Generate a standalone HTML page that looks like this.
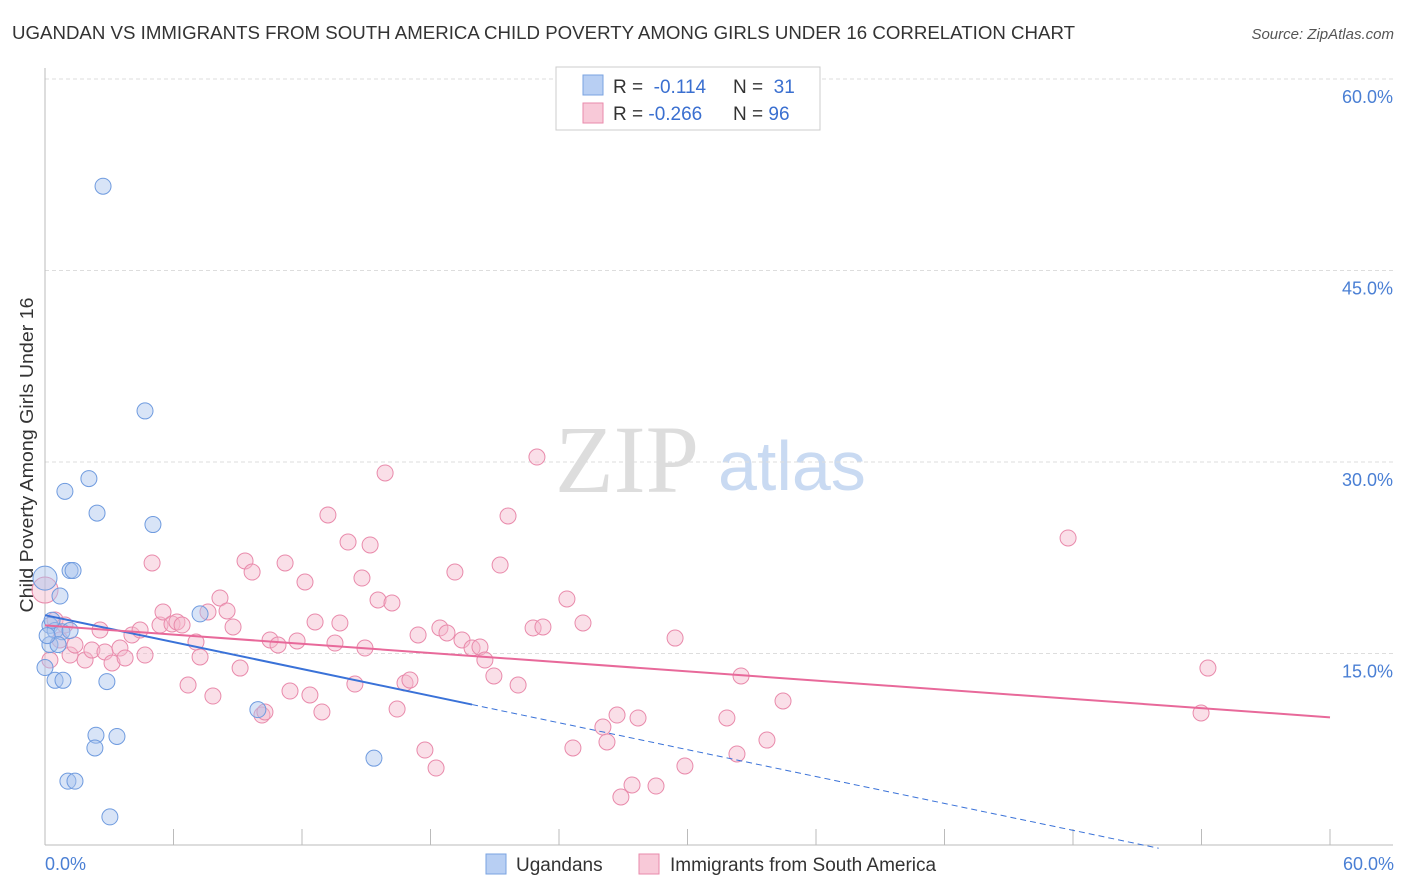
<!DOCTYPE html>
<html><head><meta charset="utf-8"><style>
body{margin:0;background:#fff;font-family:"Liberation Sans",sans-serif;}
#wrap{position:relative;width:1406px;height:892px;overflow:hidden}
</style></head><body><div id="wrap">
<svg id="svg" width="1406" height="892" xmlns="http://www.w3.org/2000/svg">
<text x="12" y="39" font-size="18" fill="#333" textLength="1063" lengthAdjust="spacingAndGlyphs">UGANDAN VS IMMIGRANTS FROM SOUTH AMERICA CHILD POVERTY AMONG GIRLS UNDER 16 CORRELATION CHART</text>
<text x="1394" y="39" font-size="15" fill="#555" font-style="italic" text-anchor="end">Source: ZipAtlas.com</text>
<text x="0" y="0" transform="translate(33,455) rotate(-90)" font-size="18" fill="#333" text-anchor="middle" textLength="315" lengthAdjust="spacingAndGlyphs">Child Poverty Among Girls Under 16</text>
<text x="555" y="492" font-size="96" fill="#ddd" font-family="Liberation Serif">ZIP</text>
<text x="718" y="490" font-size="70" fill="#c9daf2">atlas</text>
<g id="grid"></g><g id="pts"></g><g id="lines"></g>
<g>
<rect x="556" y="67" width="264" height="63" fill="#fff" stroke="#ccc"/>
<rect x="583" y="75" width="20" height="20" fill="#b8cff3" stroke="#7aa3e0"/>
<rect x="583" y="103" width="20" height="20" fill="#f8c9d8" stroke="#e98aab"/>
<text x="613" y="93" font-size="19" fill="#333">R = <tspan fill="#3a6fd0">&#160;-0.114</tspan><tspan x="733">N = </tspan><tspan fill="#3a6fd0">&#160;31</tspan></text>
<text x="613" y="120" font-size="19" fill="#333">R = <tspan fill="#3a6fd0">-0.266</tspan><tspan x="733">N = </tspan><tspan fill="#3a6fd0">96</tspan></text>
</g>
<g>
<rect x="486" y="854" width="20" height="20" fill="#b8cff3" stroke="#7aa3e0"/>
<text x="516" y="871" font-size="19" fill="#333">Ugandans</text>
<rect x="639" y="854" width="20" height="20" fill="#f8c9d8" stroke="#e98aab"/>
<text x="670" y="871" font-size="19" fill="#333">Immigrants from South America</text>
</g>
<text x="45" y="870" font-size="18" fill="#4a7fd4">0.0%</text>
<text x="1394" y="870" font-size="18" fill="#4a7fd4" text-anchor="end">60.0%</text>
</svg></div>
<script>
const yTicks=[15,30,45,60];
const blueX=[2.71,4.67,2.05,0.93,2.43,5.04,1.17,1.31,0,0.7,7.24,0.23,0.47,0.79,1.17,0.23,0.61,0.47,0.84,2.89,2.38,3.36,2.33,9.94,15.36,1.07,1.4,3.03,0,0.33,0.1];
const blueY=[51.6,34.0,28.7,27.7,26.0,25.1,21.5,21.5,20.9,19.5,18.1,17.2,16.8,16.7,16.8,15.7,15.7,12.9,12.9,12.8,8.6,8.5,7.6,10.6,6.8,5.0,5.0,2.2,13.9,17.6,16.4];
const pinkPx=[[45,590],[55,620],[60,640],[70,655],[75,645],[85,660],[92,650],[100,630],[105,652],[112,663],[120,648],[125,658],[132,635],[140,630],[145,655],[152,563],[160,625],[163,612],[172,624],[177,622],[182,625],[188,685],[196,642],[200,657],[208,612],[213,696],[220,598],[227,611],[233,627],[240,668],[245,561],[252,572],[262,715],[265,712],[270,640],[278,645],[285,563],[290,691],[297,641],[305,582],[310,695],[315,622],[322,712],[328,515],[335,643],[340,623],[348,542],[355,684],[362,578],[365,648],[370,545],[378,600],[385,473],[392,603],[397,709],[405,683],[410,680],[418,635],[425,750],[436,768],[440,628],[447,633],[455,572],[462,640],[472,648],[480,647],[485,660],[494,676],[500,565],[508,516],[518,685],[533,628],[537,457],[543,627],[567,599],[573,748],[583,623],[603,727],[607,742],[617,715],[621,797],[632,785],[638,718],[656,786],[675,638],[685,766],[727,718],[737,754],[741,676],[767,740],[783,701],[1068,538],[1201,713],[1208,668],[50,660],[65,625]];
const pinkX=pinkPx.map(p=>+((p[0]-45)*60/1285).toFixed(2));
const pinkY=pinkPx.map(p=>+((845-p[1])*15/191.5).toFixed(2));
const blueTrend=[[0,18.0],[19.94,11.0]];
const blueTrendExt=[19.94,52.0];
const pinkTrend=[[0,17.2],[60,10.0]];
const X=v=>45+v*1285/60, Y=v=>845-v*191.5/15;
const NS="http://www.w3.org/2000/svg";
function mk(t,a,p){const e=document.createElementNS(NS,t);for(const k in a)e.setAttribute(k,a[k]);p.appendChild(e);return e;}
const grid=document.getElementById('grid');
yTicks.forEach(t=>{
 const l=mk('line',{x1:45,x2:1393,y1:Y(t),y2:Y(t),stroke:'#ddd','stroke-dasharray':'4,3'},grid);
 
 
 const tx=mk('text',{x:1393,y:Y(t)+24,'font-size':18,fill:'#4a7fd4','text-anchor':'end'},grid);
 tx.textContent=t.toFixed(1)+'%';
 
 
});
const ax=mk('line',{x1:45,x2:45,y1:68,y2:845,stroke:'#bbb'},grid);


const bx=mk('line',{x1:45,x2:1393,y1:845,y2:845,stroke:'#bbb'},grid);


for(let i=0;i<=10;i++){const t=mk('line',{x1:X(i*6),x2:X(i*6),y1:829,y2:845,stroke:'#bbb'},grid);
 
 }
const pts=document.getElementById('pts');
pinkX.forEach((x,i)=>{const c=mk('circle',{cx:X(x),cy:Y(pinkY[i]),r:i==0?13:8,fill:'rgba(244,184,203,0.45)',stroke:'#e98aab','stroke-width':1},pts);
 
 });
blueX.forEach((x,i)=>{const c=mk('circle',{cx:X(x),cy:Y(blueY[i]),r:i==8?12:8,fill:'rgba(169,196,238,0.45)',stroke:'#6f9bdf','stroke-width':1},pts);
 
 });
const lines=document.getElementById('lines');
const bs=(blueTrend[1][1]-blueTrend[0][1])/(blueTrend[1][0]-blueTrend[0][0]);
let l1=mk('line',{x1:X(blueTrend[0][0]),y1:Y(blueTrend[0][1]),x2:X(blueTrend[1][0]),y2:Y(blueTrend[1][1]),stroke:'#3a72d8','stroke-width':2},lines);


let l2=mk('line',{x1:X(blueTrendExt[0]),y1:Y(blueTrend[0][1]+bs*blueTrendExt[0]),x2:X(blueTrendExt[1]),y2:Y(blueTrend[0][1]+bs*blueTrendExt[1]),stroke:'#3a72d8','stroke-width':1,'stroke-dasharray':'6,4'},lines);


let l3=mk('line',{x1:X(pinkTrend[0][0]),y1:Y(pinkTrend[0][1]),x2:X(pinkTrend[1][0]),y2:Y(pinkTrend[1][1]),stroke:'#e8699a','stroke-width':2},lines);


</script></body></html>
